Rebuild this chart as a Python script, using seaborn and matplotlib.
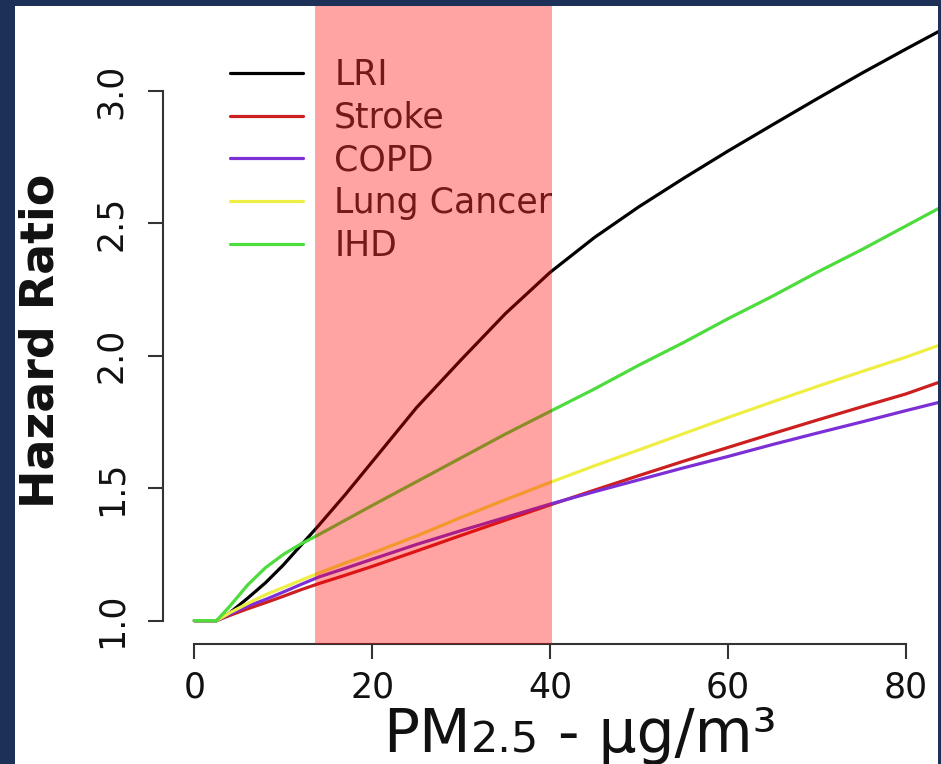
import numpy as np
import pandas as pd
import matplotlib
matplotlib.use("Agg")
import matplotlib.pyplot as plt
from matplotlib.patches import Rectangle
import seaborn as sns

# PM2.5 concentration (ug/m3) and hazard ratios
pm25 = [0, 2.5, 4, 6, 8, 10, 12, 14, 17, 20, 25, 30, 35, 40, 45, 50, 55, 60, 65, 70, 75, 80, 85]
lri = [1.0, 1.0, 1.03, 1.085, 1.143, 1.21, 1.285, 1.36, 1.477, 1.60, 1.805, 1.985, 2.16, 2.315,
       2.447, 2.563, 2.67, 2.773, 2.872, 2.97, 3.066, 3.158, 3.248]
stroke = [1.0, 1.0, 1.02, 1.045, 1.068, 1.092, 1.117, 1.14, 1.172, 1.205, 1.263, 1.322, 1.38, 1.437,
          1.493, 1.548, 1.602, 1.654, 1.706, 1.757, 1.807, 1.856, 1.915]
copd = [1.0, 1.0, 1.025, 1.055, 1.08, 1.108, 1.137, 1.165, 1.198, 1.232, 1.288, 1.34, 1.39, 1.44,
        1.487, 1.532, 1.577, 1.62, 1.665, 1.708, 1.75, 1.793, 1.835]
lung_cancer = [1.0, 1.0, 1.03, 1.065, 1.098, 1.125, 1.153, 1.18, 1.218, 1.255, 1.32, 1.39, 1.457, 1.522,
               1.585, 1.645, 1.706, 1.767, 1.826, 1.884, 1.94, 1.995, 2.055]
ihd = [1.0, 1.0, 1.055, 1.135, 1.20, 1.25, 1.29, 1.325, 1.38, 1.435, 1.525, 1.615, 1.705, 1.79,
       1.875, 1.965, 2.05, 2.14, 2.225, 2.315, 2.40, 2.49, 2.58]

diseases = ["LRI", "Stroke", "COPD", "Lung Cancer", "IHD"]
colors = {"LRI": "#000000", "Stroke": "#cc1f1f", "COPD": "#7d2fd6",
          "Lung Cancer": "#eeee44", "IHD": "#4cdc3c"}
x_ticks = [0, 20, 40, 60, 80]
y_ticks = [1.0, 1.5, 2.0, 2.5, 3.0]
shade_range = (13.6, 40.2)

frames = []
for name, vals in zip(diseases, [lri, stroke, copd, lung_cancer, ihd]):
    frames.append(pd.DataFrame({"pm": pm25, "hr": vals, "disease": name}))
df = pd.concat(frames, ignore_index=True)

sns.set_style("ticks")
plt.rcParams["font.family"] = ["DejaVu Sans"]

W, H = 941, 764
fig = plt.figure(figsize=(W / 100, H / 100), dpi=100, facecolor="#1d3158")
# white slide panel behind the plot
fig.patches.append(Rectangle((15 / W, 0), (938 - 15) / W, (H - 6) / H,
                             transform=fig.transFigure, facecolor="white", edgecolor="none",
                             zorder=-10))

ax = fig.add_axes([163 / W, (H - 644) / H, (938 - 163) / W, (644 - 6) / H])
ax.set_facecolor("none")

sns.lineplot(data=df, x="pm", y="hr", hue="disease", hue_order=diseases, palette=colors,
             linewidth=2.3, errorbar=None, ax=ax)

ax.set_xlim(-3.52, 83.63)
ax.set_ylim(0.912, 3.321)
ax.set_xticks(x_ticks)
ax.set_yticks(y_ticks)
ax.set_xticklabels([str(t) for t in x_ticks])
ax.set_yticklabels([f"{t:.1f}" for t in y_ticks])
ax.set_xlabel("")
ax.set_ylabel("")

for side in ["top", "right"]:
    ax.spines[side].set_visible(False)
ax.spines["bottom"].set_bounds(0, 80)
ax.spines["left"].set_bounds(1.0, 3.0)
for side in ["bottom", "left"]:
    ax.spines[side].set_linewidth(1.5)
    ax.spines[side].set_color("#333333")
ax.tick_params(axis="both", length=11, width=1.5, color="#333333", labelsize=25,
               labelcolor="#111111")
ax.tick_params(axis="x", pad=8)
ax.tick_params(axis="y", pad=14, labelrotation=90)
for lab in ax.get_yticklabels():
    lab.set_va("center")

handles, labels = ax.get_legend_handles_labels()
leg = ax.legend(handles, labels, loc="upper left", bbox_to_anchor=(230 / W, (H - 58) / H),
                bbox_transform=fig.transFigure, frameon=False, fontsize=25,
                handlelength=2.1, handletextpad=0.9, labelspacing=0.25,
                borderpad=0, borderaxespad=0)
for line in leg.get_lines():
    line.set_linewidth(2.3)

# highlighted concentration band, drawn over curves and legend
ax.axvspan(*shade_range, color="#ff0000", alpha=0.36, lw=0, zorder=10)

# axis titles
fig.text(41 / W, (H - 341) / H, "Hazard Ratio", rotation=90, ha="center", va="center",
         fontsize=33, fontweight="bold", color="#111111")
t1 = fig.text(383 / W, 12 / H, "PM", fontsize=43, ha="left", va="baseline", color="#111111")
t2 = ax.annotate("2.5", xy=(1, 0), xycoords=t1, xytext=(0, 2.8), textcoords="offset points",
                 fontsize=31, ha="left", va="bottom", color="#111111", annotation_clip=False)
t3 = ax.annotate(" - \u03bcg/m\u00b3", xy=(1, 0), xycoords=t2, xytext=(0, -2.8),
                 textcoords="offset points", fontsize=43, ha="left", va="bottom",
                 color="#111111", annotation_clip=False)

fig.savefig("out.png", dpi=100, facecolor=fig.get_facecolor())
